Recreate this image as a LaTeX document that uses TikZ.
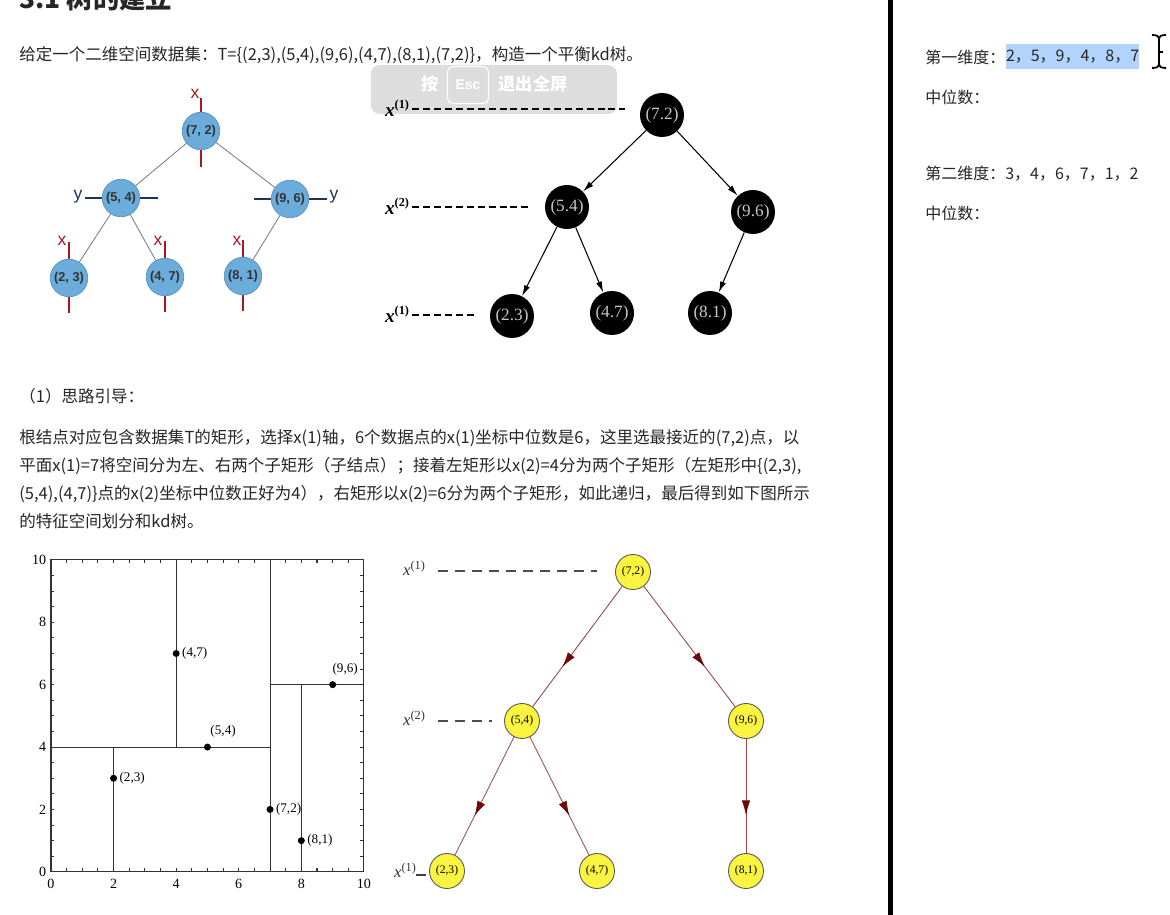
\documentclass[tikz,border=0pt]{standalone}
\usepackage[no-math]{fontspec}
\setmainfont{Noto Sans CJK SC}
\newfontfamily\timesf{Liberation Serif}
\newfontfamily\arialf{Liberation Sans}
\usetikzlibrary{arrows.meta,decorations.markings}

\definecolor{bluefill}{RGB}{108,172,218}
\definecolor{blueborder}{RGB}{86,146,196}
\definecolor{tickred}{RGB}{165,28,32}
\definecolor{ticknavy}{RGB}{28,52,92}
\definecolor{yellowfill}{RGB}{250,244,64}
\definecolor{edgebrown}{RGB}{150,72,72}
\definecolor{tipred}{RGB}{110,8,8}
\definecolor{selblue}{RGB}{178,212,252}
\definecolor{overlaygray}{RGB}{218,218,218}

\newcommand{\levx}[1]{x\raisebox{0.85ex}{\upshape\fontsize{7}{7}\selectfont(#1)}}

\begin{document}
\begin{tikzpicture}[
  x=0.02cm, y=-0.02cm,
  bodytext/.style={anchor=west, inner sep=0pt, text=black!85, font=\fontsize{9.4}{11}\selectfont},
  paneltext/.style={anchor=west, inner sep=0pt, text=black!85, font=\fontsize{9.1}{11}\selectfont},
  bluenode/.style={circle, fill=bluefill, draw=blueborder, line width=0.4pt, minimum size=0.75cm, inner sep=0pt, text=black!80, font=\arialf\bfseries\fontsize{7.3}{8}\selectfont},
  blueedge/.style={gray, line width=0.5pt},
  redtick/.style={tickred, line width=1.4pt},
  navytick/.style={ticknavy, line width=1.4pt},
  redlab/.style={inner sep=0pt, text=tickred, font=\arialf\fontsize{10}{10}\selectfont},
  navylab/.style={inner sep=0pt, text=ticknavy, font=\arialf\fontsize{10}{10}\selectfont},
  blacknode/.style={circle, fill=black, minimum size=0.88cm, inner sep=0pt, text=black!22, font=\timesf\fontsize{9.8}{10}\selectfont},
  blackarrow/.style={-{Latex[length=2.2mm,width=1.2mm]}, line width=0.6pt},
  blackdash/.style={line width=0.9pt, dash pattern=on 4pt off 2.2pt},
  boldlab/.style={inner sep=0pt, font=\timesf\bfseries\itshape\fontsize{11}{11}\selectfont},
  levellab/.style={inner sep=0pt, text=black!80, font=\timesf\itshape\fontsize{9.5}{9.5}\selectfont},
  plotline/.style={black!80, line width=0.6pt},
  plotnum/.style={inner sep=0pt, font=\timesf\fontsize{8}{8}\selectfont},
  ptlab/.style={inner sep=1pt, font=\timesf\fontsize{7.5}{8}\selectfont},
  dot/.style={circle, fill=black, inner sep=0pt, minimum size=0.14cm},
  yellownode/.style={circle, fill=yellowfill, draw=black!65, line width=0.5pt, minimum size=0.7cm, inner sep=0pt, font=\timesf\fontsize{6.6}{7}\selectfont},
  yellowedge/.style={edgebrown, line width=0.5pt, postaction={decorate},
    decoration={markings, mark=at position 0.67 with {\arrow[tipred]{Latex[length=3mm,width=1.7mm]}}}},
  yellowdash/.style={black!70, line width=1.1pt, dash pattern=on 5.7pt off 4pt},
  esctext/.style={inner sep=0pt, text=white, font=\bfseries\fontsize{9.8}{10}\selectfont}
]
\fill[white] (0,0) rectangle (1170,915);
\useasboundingbox (0,0) rectangle (1170,915);
\clip (0,0) rectangle (1170,915);

% heading and first line
\node[anchor=base west, inner sep=0pt, text=black!85, font=\bfseries\fontsize{15}{15}\selectfont] (title) at (19,9) {3.1 树的建立};
\node[bodytext] (given) at (19,55) {给定一个二维空间数据集：T=\{(2,3),(5,4),(9,6),(4,7),(8,1),(7,2)\}，构造一个平衡kd树。};

% fullscreen hint overlay
\fill[overlaygray, opacity=0.9, rounded corners=5pt] (371,65) rectangle (617,114);
\node[esctext] (press) at (430,84) {按};
\node[esctext, draw=white, line width=0.6pt, rounded corners=3pt, minimum width=0.82cm, minimum height=0.74cm, font=\arialf\bfseries\fontsize{8}{8}\selectfont] (esc) at (468,85) {Esc};
\node[esctext] (exitfs) at (533,84) {退出全屏};

% blue tree
\node[bluenode] (b72) at (201,131) {(7, 2)};
\node[bluenode] (b54) at (121,198) {(5, 4)};
\node[bluenode] (b96) at (290,199) {(9, 6)};
\node[bluenode] (b23) at (69,278) {(2, 3)};
\node[bluenode] (b47) at (165,277) {(4, 7)};
\node[bluenode] (b81) at (243,276) {(8, 1)};
\draw[blueedge] (b72) -- (b54);
\draw[blueedge] (b72) -- (b96);
\draw[blueedge] (b54) -- (b23);
\draw[blueedge] (b54) -- (b47);
\draw[blueedge] (b96) -- (b81);
\draw[redtick] (b72.north) -- ++(0,-14);
\draw[redtick] (b72.south) -- ++(0,17);
\draw[navytick] (b54.west) -- ++(-17,0);
\draw[navytick] (b54.east) -- ++(18,0);
\draw[navytick] (b96.west) -- ++(-17,0);
\draw[navytick] (b96.east) -- ++(18,0);
\foreach \n in {b23,b47,b81} {
  \draw[redtick] (\n.north) -- ++(0,-17);
  \draw[redtick] (\n.south) -- ++(0,16);
}
\node[redlab] (xl72) at (195,94) {x};
\node[redlab] (xl23) at (62,241) {x};
\node[redlab] (xl47) at (158,241) {x};
\node[redlab] (xl81) at (237,241) {x};
\node[navylab] (yl54) at (78,197) {y};
\node[navylab] (yl96) at (334,197) {y};

% black tree
\node[blacknode] (k72) at (662,115) {(7.2)};
\node[blacknode] (k54) at (567,207) {(5.4)};
\node[blacknode] (k96) at (753,212) {(9.6)};
\node[blacknode] (k23) at (512,316) {(2.3)};
\node[blacknode] (k47) at (612,313) {(4.7)};
\node[blacknode] (k81) at (710,313) {(8.1)};
\draw[blackarrow] (k72) -- (k54);
\draw[blackarrow] (k72) -- (k96);
\draw[blackarrow] (k54) -- (k23);
\draw[blackarrow] (k54) -- (k47);
\draw[blackarrow] (k96) -- (k81);
\node[boldlab] (kl1) at (397,108) {\levx{1}};
\node[boldlab] (kl2) at (397,206) {\levx{2}};
\node[boldlab] (kl3) at (397,314) {\levx{1}};
\coordinate (kd1) at (625,109);
\coordinate (kd2) at (528,207);
\coordinate (kd3) at (476,315);
\draw[blackdash] (kl1.east |- kd1) ++(3,0) -- (kd1);
\draw[blackdash] (kl2.east |- kd2) ++(3,0) -- (kd2);
\draw[blackdash] (kl3.east |- kd3) ++(3,0) -- (kd3);

% text
\node[bodytext] (hint) at (19,396) {（1）思路引导：};
\node[bodytext] (para1) at (19,438) {根结点对应包含数据集T的矩形，选择x(1)轴，6个数据点的x(1)坐标中位数是6，这里选最接近的(7,2)点，以};
\node[bodytext] (para2) at (19,466) {平面x(1)=7将空间分为左、右两个子矩形（子结点）；接着左矩形以x(2)=4分为两个子矩形（左矩形中\{(2,3),};
\node[bodytext] (para3) at (19,494) {(5,4),(4,7)\}点的x(2)坐标中位数正好为4），右矩形以x(2)=6分为两个子矩形，如此递归，最后得到如下图所示};
\node[bodytext] (para4) at (19,521) {的特征空间划分和kd树。};

% partition plot
\begin{scope}[shift={(1.02cm,-17.44cm)}, x=0.626cm, y=0.624cm]
  \draw[plotline] (0,0) rectangle (10,10);
  \foreach \t in {0.5,1,...,9.5} {
    \draw[plotline] (\t,0) -- ++(0,0.11);
    \draw[plotline] (\t,10) -- ++(0,-0.11);
    \draw[plotline] (0,\t) -- ++(0.11,0);
    \draw[plotline] (10,\t) -- ++(-0.11,0);
  }
  \foreach \t in {0,2,...,10} {
    \node[plotnum, anchor=north] (xn\t) at (\t,-0.22) {\t};
    \node[plotnum, anchor=east] (yn\t) at (-0.14,\t) {\t};
  }
  \draw[plotline] (4,4) -- (4,10);
  \draw[plotline] (0,4) -- (7,4);
  \draw[plotline] (2,0) -- (2,4);
  \draw[plotline] (7,0) -- (7,10);
  \draw[plotline] (7,6) -- (10,6);
  \draw[plotline] (8,0) -- (8,6);
  \node[dot] (p23) at (2,3) {};
  \node[dot] (p54) at (5,4) {};
  \node[dot] (p96) at (9,6) {};
  \node[dot] (p47) at (4,7) {};
  \node[dot] (p81) at (8,1) {};
  \node[dot] (p72) at (7,2) {};
  \node[ptlab, anchor=west] (q23) at (p23.east) {(2,3)};
  \node[ptlab, anchor=west] (q47) at (p47.east) {(4,7)};
  \node[ptlab, anchor=west] (q72) at (p72.east) {(7,2)};
  \node[ptlab, anchor=west] (q81) at (p81.east) {(8,1)};
  \node[ptlab] (q54) at (5.5,4.49) {(5,4)};
  \node[ptlab] (q96) at (9.4,6.5) {(9,6)};
\end{scope}

% yellow tree
\node[yellownode] (y72) at (633,572) {(7,2)};
\node[yellownode] (y54) at (522,721) {(5,4)};
\node[yellownode] (y96) at (746,721) {(9,6)};
\node[yellownode] (y23) at (447,871) {(2,3)};
\node[yellownode] (y47) at (597,871) {(4,7)};
\node[yellownode] (y81) at (746,871) {(8,1)};
\draw[yellowedge] (y72) -- (y54);
\draw[yellowedge] (y72) -- (y96);
\draw[yellowedge] (y54) -- (y23);
\draw[yellowedge] (y54) -- (y47);
\draw[yellowedge] (y96) -- (y81);
\node[levellab] (yl1) at (414,568) {\levx{1}};
\node[levellab] (yl2) at (414,718) {\levx{2}};
\node[levellab] (yl3) at (405,870) {\levx{1}};
\coordinate (ys1) at (438,571);
\coordinate (ye1) at (597,571);
\coordinate (ys2) at (438,721);
\coordinate (ye2) at (492,721);
\coordinate (ys3) at (416,875);
\coordinate (ye3) at (426,875);
\draw[yellowdash] (ys1) -- (ye1);
\draw[yellowdash] (ys2) -- (ye2);
\draw[black!75, line width=0.9pt] (ys3) -- (ye3);

% right panel
\fill[black] (888,0) rectangle (893,915);
\node[paneltext] (dim1) at (925,57) {第一维度：};
\node[paneltext, fill=selblue, minimum height=0.5cm] (dim1v) at (dim1.east) {2，5，9，4，8，7};
\node[paneltext] (med1) at (925,97) {中位数：};
\node[paneltext] (dim2) at (925,174) {第二维度：3，4，6，7，1，2};
\node[paneltext] (med2) at (925,213) {中位数：};
\draw[line width=1.3pt] (1159,39) -- (1159,64);
\draw[line width=1pt] (1152,35) .. controls (1157,35) and (1159,36) .. (1159,40) .. controls (1159,36) and (1161,35) .. (1166,35);
\draw[line width=1pt] (1152,68) .. controls (1157,68) and (1159,67) .. (1159,63) .. controls (1159,67) and (1161,68) .. (1166,68);
\draw[line width=0.8pt] (1159,52) -- (1163,52);
\end{tikzpicture}
\end{document}
